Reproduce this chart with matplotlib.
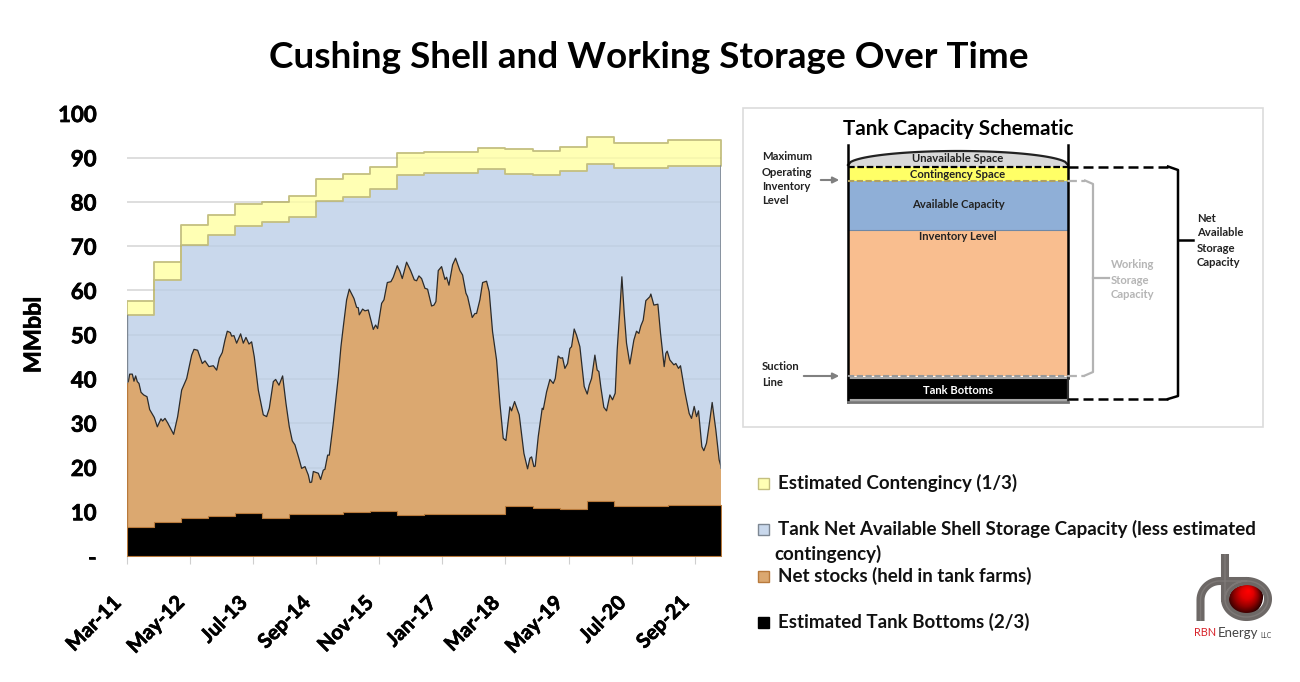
import numpy as np
import matplotlib
matplotlib.use("Agg")
import matplotlib.pyplot as plt
import matplotlib.patheffects as pe
from matplotlib.patches import Rectangle, Circle, Polygon
from matplotlib.transforms import ScaledTranslation
from matplotlib.colors import LinearSegmentedColormap

plt.rcParams['font.family'] = ['Lato', 'DejaVu Sans']

# ---- data (months since Mar-2011) ----
tick_labels = ["Mar-11","May-12","Jul-13","Sep-14","Nov-15","Jan-17","Mar-18","May-19","Jul-20","Sep-21"]
tick_months = [0,14,28,42,56,70,84,98,112,126]
end_month = 131.94
step_months = [0,6,12,18,24,30,36,42,48,54,60,66,72,78,84,90,96,102,108,114,120,126]
total_shell = [57.7,66.4,74.8,77.1,79.5,79.9,81.4,85.1,86.4,87.9,91.0,91.4,91.4,92.3,92.0,91.5,92.5,94.8,93.4,93.4,93.9,93.9]
net_shell   = [54.4,62.4,70.3,72.5,74.6,75.4,76.7,80.2,81.2,82.9,86.1,86.5,86.5,87.4,86.3,86.0,87.1,88.5,87.6,87.6,88.1,88.1]
bottoms     = [6.5,7.6,8.6,9.0,9.8,8.6,9.4,9.5,10.0,10.2,9.3,9.5,9.5,9.5,11.2,10.9,10.7,12.4,11.2,11.2,11.5,11.5]
stock_months = [0,0.30,0.59,1.18,1.55,1.92,2.29,2.66,3.11,3.70,4.44,5.03,6.06,6.73,7.54,7.91,8.43,9.02,10.35,11.24,12.13,13.24,14.35,14.87,15.68,16.71,17.31,18.19,19.16,19.9,20.49,21.15,21.74,22.26,22.93,23.22,23.74,24.33,25.22,25.81,26.4,27.07,27.66,28.25,29.14,30.25,30.99,31.58,32.47,32.99,33.73,34.54,
 35.28,36.02,36.69,37.28,38.17,38.76,39.50,40.24,40.61,40.98,41.35,42.46,42.97,43.56,43.93,44.53,44.9,45.78,46.89,47.48,48.0,48.74,49.33,50.37,50.96,51.33,51.55,52.29,52.81,53.55,54.66,55.18,55.62,56.51,57.03,57.77,58.58,59.1,59.98,60.58,61.09,62.05,62.94,63.76,64.27,64.79,65.38,66.12,66.71,67.6,68.12,68.56,69.08,
 69.82,70.56,70.93,71.45,72.26,72.92,73.89,74.48,75.22,75.59,76.62,77.21,77.58,78.32,78.92,79.8,80.39,81.13,82.02,82.76,83.5,84.09,84.98,85.35,86.02,87.05,88.09,88.9,89.42,89.79,90.31,90.6,91.27,92.15,92.38,93.12,93.86,94.6,95.04,95.7,96.22,96.67,97.18,97.78,98.29,98.66,99.25,99.77,100.51,101.47,102.14,102.58,
 103.1,103.84,104.35,104.72,105.17,105.83,106.43,107.17,107.76,108.35,108.79,109.38,109.83,110.35,110.86,111.6,112.49,113.08,113.6,114.04,114.56,115.15,116.04,116.26,116.93,117.82,118.41,119.22,119.59,119.89,120.48,121.37,121.81,122.4,122.84,123.81,124.77,125.29,125.88,126.4,126.84,127.58,128.02,128.61,129.35,129.87,130.68,131.42,131.94]
stock_values = [39.2,39.4,41.1,41.1,39.5,40.7,39.4,39.0,37.0,36.4,36.0,33.1,31.3,29.2,31.0,30.5,31.1,30.1,27.5,31.5,37.5,40.1,45.4,46.7,46.5,43.5,44.1,42.8,43.0,42.0,44.7,46.0,48.8,50.8,50.5,49.7,49.8,48.1,50.2,48.1,49.4,47.9,48.4,45.0,37.5,31.9,31.5,33.4,39.4,39.9,38.6,40.7,
 34.5,29.2,26.0,25.1,22.0,19.8,20.2,18.3,16.6,16.7,19.1,18.7,17.3,19.4,19.6,22.8,22.8,30.0,40.5,47.3,51.8,57.9,60.3,58.2,56.2,56.1,54.5,55.8,55.4,55.6,51.2,52.2,51.4,57.1,57.9,61.8,62.0,63.0,65.6,64.3,62.7,66.4,64.5,62.4,62.2,63.3,62.7,60.5,60.3,56.5,56.7,57.5,64.5,
 65.4,62.5,63.0,61.2,65.8,67.3,64.5,63.5,59.4,58.6,53.9,54.8,54.8,57.9,61.8,62.1,59.7,50.7,44.3,34.5,26.6,26.1,33.7,32.8,34.9,31.9,23.2,19.7,22.1,22.4,20.2,20.3,27.0,33.4,33.1,37.1,39.9,39.0,40.1,45.2,44.7,44.8,42.4,43.5,46.9,47.3,51.3,49.9,47.3,38.3,36.6,38.6,
 40.1,45.4,42.0,41.7,38.1,33.6,32.8,36.4,35.3,36.8,46.6,55.6,63.1,54.8,48.1,43.4,48.8,50.8,50.3,52.0,53.3,57.7,58.6,59.2,56.7,56.9,50.3,42.8,45.8,46.3,44.3,43.2,43.5,42.4,43.0,37.1,32.2,31.1,33.8,31.5,32.8,24.7,23.8,25.5,30.7,34.7,28.5,21.7,19.8]
legend_labels = ["Estimated Contengincy (1/3)",
                 "Tank Net Available Shell Storage Capacity (less estimated",
                 "contingency)",
                 "Net stocks (held in tank farms)",
                 "Estimated Tank Bottoms (2/3)"]

YEL, YEL_E = "#FFFFB4", "#C4BF80"
BLU, BLU_E = "#C9D8EC", "#8E9BAD"
ORG, ORG_E = "#DBA870", "#B87A3C"

W, H = 1300, 682
fig = plt.figure(figsize=(W/100, H/100), dpi=100, facecolor="white")
thick = [pe.withStroke(linewidth=0.5, foreground="black")]

# ---- main chart ----
ax = fig.add_axes([127/W, 1-556/H, (721.5-127)/W, (556-113.5)/H])
ax.set_xlim(0, end_month); ax.set_ylim(0, 100)
sx = step_months + [end_month]
def ext(a): return list(a) + [a[-1]]
for v in range(10, 101, 10):
    ax.axhline(v, color="#e2e2e2", lw=1.2, zorder=1)
ax.fill_between(sx, 0, ext(net_shell), step="post", fc=BLU, ec="none", zorder=2)
ax.fill_between(sx, ext(net_shell), ext(total_shell), step="post", fc=YEL, ec=YEL_E, lw=1.3, zorder=2.2)
for v in range(10, 101, 10):
    ax.plot([0, end_month], [v, v], color="black", alpha=0.04, lw=1.2, zorder=2.5)
ax.fill_between(stock_months, 0, stock_values, fc=ORG, ec="none", zorder=3)
ax.plot(stock_months, stock_values, color="#2b2b2b", lw=0.9, zorder=3.5)
ax.fill_between(sx, 0, ext(bottoms), step="post", fc="black", ec=ORG_E, lw=0.8, zorder=4)
ax.plot([0,0],[stock_values[0],net_shell[0]], color="#7d8793", lw=1.0, zorder=5)
ax.plot([0,0],[bottoms[0],stock_values[0]], color=ORG_E, lw=1.0, zorder=5.5)
ax.plot([end_month]*2,[stock_values[-1],net_shell[-1]], color="#7d8793", lw=1.2, zorder=5)
for s in ("top","right","left"):
    ax.spines[s].set_visible(False)
ax.spines["bottom"].set_color("#cfcfcf")
ax.set_yticks(range(0,101,10))
ax.set_yticklabels(["-"]+[str(v) for v in range(10,101,10)], fontsize=16, fontweight="bold", path_effects=thick)
ax.tick_params(axis="y", length=0, pad=22)
ax.set_xticks(tick_months)
ax.set_xticklabels(tick_labels, rotation=45, ha="right", va="center", rotation_mode="anchor", fontsize=14.6, fontweight="bold", path_effects=thick)
ax.tick_params(axis="x", length=5.5, color="#cfcfcf", pad=26)
shift = ScaledTranslation(-9/100, 0, fig.dpi_scale_trans)
for lab in ax.get_xticklabels():
    lab.set_transform(lab.get_transform() + shift)

# ---- overlay in pixel coordinates ----
ov = fig.add_axes([0,0,1,1], facecolor="none")
ov.set_xlim(0, W); ov.set_ylim(H, 0); ov.axis("off")
ov.text(649, 58, "Cushing Shell and Working Storage Over Time", ha="center", va="center", fontsize=26.6, fontweight="bold")
ov.text(34, 335, "MMbbl", rotation=90, ha="center", va="center", fontsize=16.8, fontweight="bold", path_effects=thick)

# schematic panel
SM = 8.1
ov.add_patch(Rectangle((743,108), 520, 319, fc="white", ec="#dcdcdc", lw=1.2))
ov.text(958, 129, "Tank Capacity Schematic", ha="center", va="center", fontsize=14.9, fontweight="bold")
tl, tr = 848, 1068
xs = np.linspace(tl, tr, 80)
dome = 165 - 14*(1-((xs-958)/110)**2)**0.5
ov.add_patch(Polygon(list(zip(xs,dome))+[(tr,167),(tl,167)], fc="#D9D9D9", ec="none"))
ov.plot(xs, dome, color="#222", lw=1.6)
ov.add_patch(Rectangle((tl,167), tr-tl, 13.5, fc="#FFFF66", ec="none"))
ov.add_patch(Rectangle((tl,180.5), tr-tl, 49.5, fc="#8FAFD7", ec="none"))
ov.plot([tl,tr],[230,230],color="#7088a5",lw=0.8)
ov.add_patch(Rectangle((tl,230), tr-tl, 146, fc="#F9BE8F", ec="none"))
ov.add_patch(Rectangle((tl,378), tr-tl, 22, fc="black", ec="#a8a8a8", lw=1.5))
ov.plot([tl,tl],[145,402],color="black",lw=1.8)
ov.plot([tr,tr],[145,378],color="black",lw=1.8)
ov.plot([tr,tr],[378,402],color="#333",lw=1.5)
ov.plot([tl,tr],[402,402],color="#777",lw=2)
ov.plot([tl,tr],[166.5,166.5],color="black",lw=1.6,ls=(0,(3,1.2)))
ov.plot([tl,tr],[180.5,180.5],color="#b0a060",lw=1.5,ls=(0,(3,1.2)))
ov.plot([tl,tr],[376,376],color="#999",lw=1.5,ls=(0,(3,1.2)))
# brackets
ov.plot([tr,1168],[166.5,166.5],color="black",lw=1.8,ls=(0,(4,2)))
ov.plot([tr,1168],[399,399],color="black",lw=1.8,ls=(0,(4,2)))
ov.plot([1168,1178,1178,1168],[166.5,170,396,399],color="black",lw=1.8)
ov.plot([1178,1193],[240,240],color="black",lw=1.8)
ov.plot([tr,1085],[180.5,180.5],color="#b3b3b3",lw=1.6,ls=(0,(4,2)))
ov.plot([tr,1085],[375.5,375.5],color="#b3b3b3",lw=1.6,ls=(0,(4,2)))
ov.plot([1085,1093,1093,1085],[180.5,184,372,375.5],color="#b3b3b3",lw=1.6)
ov.plot([1093,1109],[278,278],color="#b3b3b3",lw=1.6)
for y0,t in zip((158,174.5,205,237),("Unavailable Space","Contingency Space","Available Capacity","Inventory Level")):
    ov.text(958, y0, t, ha="center", va="center", fontsize=SM, fontweight="bold", color="#222")
ov.text(958, 390, "Tank Bottoms", ha="center", va="center", fontsize=SM, fontweight="bold", color="white")
for y0,t in zip((157,172,187,201),("Maximum","Operating","Inventory","Level")):
    ov.text(762, y0, t, va="center", fontsize=SM, fontweight="bold", color="#222")
for y0,t in zip((367,382),("Suction","Line")):
    ov.text(762, y0, t, va="center", fontsize=SM, fontweight="bold", color="#222")
for y0,t in zip((218,233,248,262),("Net","Available","Storage","Capacity")):
    ov.text(1197, y0, t, va="center", fontsize=SM, fontweight="bold", color="#222")
for y0,t in zip((265,280,295),("Working","Storage","Capacity")):
    ov.text(1111, y0, t, va="center", fontsize=SM, fontweight="bold", color="#b5b5b5")
for x0,y0 in ((818,180),(801,376)):
    ov.annotate("", xy=(842,y0), xytext=(x0,y0), arrowprops=dict(arrowstyle="-|>", color="#808080", lw=1.5, mutation_scale=9))

# legend
for y0,fc,ec in ((483,YEL,YEL_E),(529,BLU,"#7d8793"),(576,ORG,ORG_E),(622,"black","black")):
    ov.add_patch(Rectangle((758,y0-5.5), 11, 11, fc=fc, ec=ec, lw=1.0))
for (x0,y0),t in zip(((778,483),(778,529),(774,554),(778,576),(778,622)), legend_labels):
    ov.text(x0, y0, t, va="center", fontsize=13.5, fontweight="bold", color="#111")

# logo
GR = "#6d6866"
cm = LinearSegmentedColormap.from_list("b", ["#2a0000","#8f0000","#e00000","#ff0000"])
for r,c in zip(np.linspace(18,1,24), cm(np.linspace(0,1,24))):
    ov.add_patch(Circle((1245+(18-r)*0.2, 597-(18-r)*0.35), r, fc=c, ec="none", zorder=6))
ang = np.linspace(np.pi, -1.5*np.pi, 100)     # once round the ring from its left side
rx = 1246.5 + 21.5*np.cos(ang); ry = 599 - 18*np.sin(ang)
a2 = np.linspace(np.pi/2, np.pi, 30)          # arch down to the left leg
ax2 = 1220 + 19.5*np.cos(a2); ay2 = 600 - 19*np.sin(a2)
px = np.r_[1225, rx, ax2, 1200.5]
py = np.r_[554, ry, ay2, 621]
ov.plot(px, py, color=GR, lw=5.8, solid_capstyle="butt", solid_joinstyle="round", zorder=7)
ov.plot(px, py, color="#7d7876", lw=1.0, solid_capstyle="butt", zorder=7.5)
ov.text(1194, 633, "RBN", va="center", fontsize=7.8, color="#d8232a", zorder=8)
ov.text(1218, 633, "Energy", va="center", fontsize=9.5, color="#444", zorder=8)
ov.text(1260, 635, "LLC", va="center", fontsize=4.8, color="#444", zorder=8)

fig.savefig("out.png", dpi=100)
